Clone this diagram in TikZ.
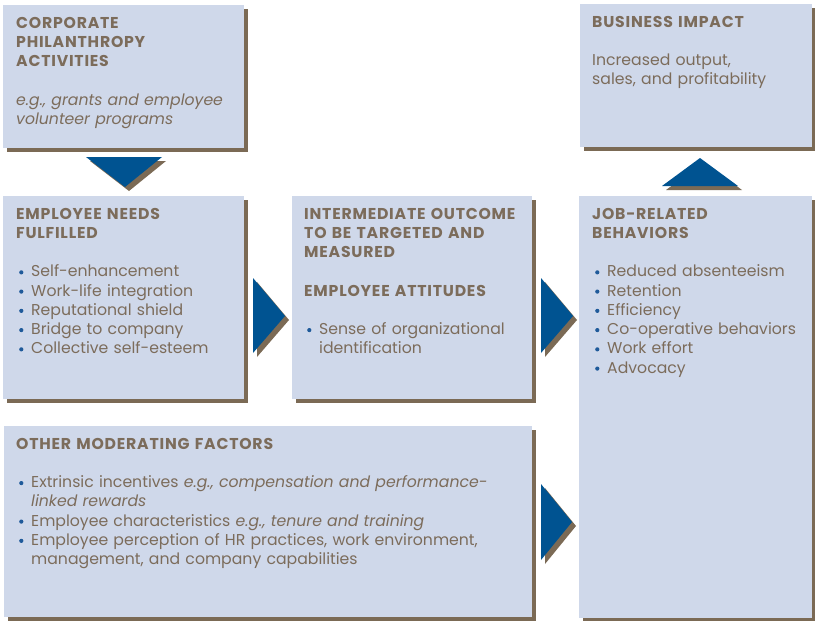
\documentclass[tikz,border=0pt]{standalone}
\usepackage{fontspec}
\setmainfont{Poppins}[BoldFeatures={LetterSpace=5}]
\usetikzlibrary{shadows}
\definecolor{boxfill}{HTML}{CFD8EA}
\definecolor{shadowc}{HTML}{7B6A55}
\definecolor{arrowc}{HTML}{005391}
\definecolor{textc}{HTML}{7C6C5B}
\definecolor{bulc}{HTML}{1F5A9A}
\newcommand\bitem{\makebox[15pt][l]{\hspace{3pt}\tikz[baseline=0pt]\fill[bulc] (0pt,4.6pt) circle (2.1pt);}}
\newcommand\gap{\\[19.25pt]}
\begin{document}
\begin{tikzpicture}[x=1pt,y=-1pt,
  panel/.style={rectangle, fill=boxfill, draw=none, anchor=north west, inner sep=0pt,
    general shadow={shadow xshift=4pt, shadow yshift=-4pt, fill=shadowc}},
  txt/.style={anchor=north west, inner sep=0pt, text width=#1, align=left, text=textc,
    font=\fontsize{15.7}{19.25}\selectfont},
  tri/.style={fill=arrowc},
  trishadow/.style={fill=shadowc}]
\useasboundingbox (0,0) rectangle (815,621);
% boxes
\node[panel, minimum width=241pt, minimum height=143pt] (b1) at (3,5) {};
\node[panel, minimum width=232pt, minimum height=143pt] (b5) at (580,4) {};
\node[panel, minimum width=241pt, minimum height=203pt] (b2) at (3,196) {};
\node[panel, minimum width=240pt, minimum height=203pt] (b3) at (292,196) {};
\node[panel, minimum width=233pt, minimum height=422pt] (b4) at (579,196) {};
\node[panel, minimum width=528pt, minimum height=191pt] (b6) at (4,426) {};
% arrows
\fill[trishadow] (90,161) -- (166,161) -- (129,191) -- cycle;
\fill[tri] (86,157) -- (162,157) -- (125,187) -- cycle;
\fill[trishadow] (666,190) -- (742,190) -- (704,162) -- cycle;
\fill[tri] (662,186) -- (738,186) -- (700,158) -- cycle;
\fill[trishadow] (257,282) -- (257,357) -- (289,320) -- cycle;
\fill[tri] (253,278) -- (253,353) -- (285,316) -- cycle;
\fill[trishadow] (545,282) -- (545,357) -- (577,320) -- cycle;
\fill[tri] (541,278) -- (541,353) -- (573,316) -- cycle;
\fill[trishadow] (545,488) -- (545,564) -- (576,526) -- cycle;
\fill[tri] (541,484) -- (541,560) -- (572,522) -- cycle;
% texts
\node[txt=225pt] (t1) at ([shift={(13,7)}]b1.north west) {\rule{0pt}{16pt}\textbf{CORPORATE}\\\textbf{PHILANTHROPY}\\\textbf{ACTIVITIES}\gap
 \textit{e.g., grants and employee}\\\textit{volunteer programs}};
\node[txt=220pt] (t5) at ([shift={(12,7)}]b5.north west) {\rule{0pt}{16pt}\textbf{BUSINESS IMPACT}\gap
 Increased output,\\sales, and profitability};
\node[txt=225pt] (t2) at ([shift={(13,7)}]b2.north west) {\rule{0pt}{16pt}\textbf{EMPLOYEE NEEDS}\\\textbf{FULFILLED}\gap
 \bitem Self-enhancement\\
 \bitem Work-life integration\\
 \bitem Reputational shield\\
 \bitem Bridge to company\\
 \bitem Collective self-esteem};
\node[txt=230pt] (t3) at ([shift={(12,7)}]b3.north west) {\rule{0pt}{16pt}\textbf{INTERMEDIATE OUTCOME}\\\textbf{TO BE TARGETED AND}\\\textbf{MEASURED}\gap
 \textbf{EMPLOYEE ATTITUDES}\gap
 \bitem Sense of organizational\\
 \hspace*{15pt}identification};
\node[txt=220pt] (t4) at ([shift={(13,7)}]b4.north west) {\rule{0pt}{16pt}\textbf{JOB-RELATED}\\\textbf{BEHAVIORS}\gap
 \bitem Reduced absenteeism\\
 \bitem Retention\\
 \bitem Efficiency\\
 \bitem Co-operative behaviors\\
 \bitem Work effort\\
 \bitem Advocacy};
\node[txt=515pt] (t6) at ([shift={(12,7)}]b6.north west) {\rule{0pt}{16pt}\textbf{OTHER MODERATING FACTORS}\gap
 \bitem Extrinsic incentives \textit{e.g., compensation and performance-}\\
 \hspace*{15pt}\textit{linked rewards}\\
 \bitem Employee characteristics \textit{e.g., tenure and training}\\
 \bitem Employee perception of HR practices, work environment,\\
 \hspace*{15pt}management, and company capabilities};
\end{tikzpicture}
\end{document}
